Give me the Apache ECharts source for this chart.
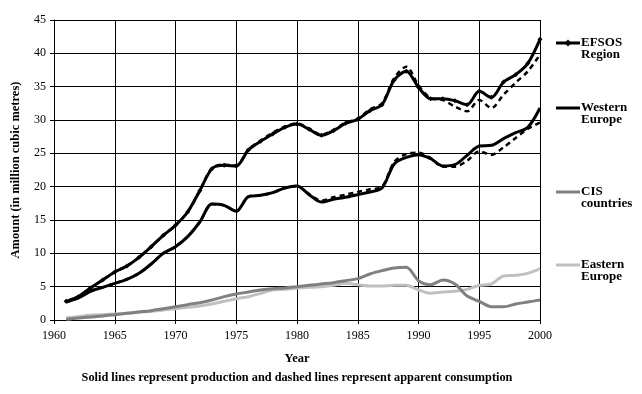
<!DOCTYPE html>
<html>
<head>
<meta charset="utf-8">
<script src="https://cdn.jsdelivr.net/npm/echarts@6/dist/echarts.min.js"></script>
<style>html,body{margin:0;padding:0;background:#fff}#c{width:642px;height:394px}</style>
</head>
<body>
<div id="c"></div>
<script>
var years = [];
for (var y = 1961; y <= 2000; y++) years.push(y);

var efsosProd = [2.8,3.5,4.8,6.0,7.2,8.1,9.4,11.0,12.7,14.2,16.2,19.4,22.7,23.2,23.1,25.5,26.8,27.9,28.9,29.4,28.6,27.7,28.4,29.5,30.1,31.4,32.3,36.0,37.3,34.9,33.2,33.2,32.9,32.3,34.3,33.4,35.7,36.8,38.5,42.1];
var efsosCons = [2.7,3.5,4.8,6.0,7.2,8.1,9.4,11.0,12.7,14.2,16.2,19.4,22.8,23.3,23.2,25.6,26.9,28.1,29.0,29.5,28.7,27.8,28.5,29.6,30.2,31.6,32.5,36.3,38.0,35.2,33.3,33.0,32.0,31.3,33.0,31.8,33.8,35.6,37.3,39.8];
var westProd = [2.7,3.3,4.3,4.9,5.5,6.1,7.0,8.4,10.0,11.0,12.5,14.7,17.4,17.2,16.3,18.5,18.7,19.1,19.8,20.1,18.8,17.7,18.1,18.4,18.8,19.2,19.8,23.4,24.4,24.8,24.2,23.1,23.3,24.7,26.1,26.2,27.2,28.1,28.9,31.8];
var westCons = [2.7,3.3,4.3,4.9,5.5,6.1,7.0,8.4,10.0,11.0,12.5,14.7,17.4,17.2,16.3,18.5,18.7,19.1,19.8,20.1,18.9,17.9,18.4,18.8,19.2,19.6,20.0,23.7,24.9,25.1,24.3,23.0,23.0,23.9,25.3,24.8,25.9,27.3,28.7,29.6];
var cisProd = [0.1,0.3,0.45,0.6,0.8,1.0,1.2,1.4,1.7,2.0,2.3,2.6,3.0,3.5,3.9,4.2,4.5,4.7,4.8,5.0,5.2,5.4,5.6,5.9,6.2,6.9,7.4,7.8,7.9,5.9,5.3,6.0,5.4,3.6,2.8,2.0,2.0,2.4,2.7,3.0];
var eastProd = [0.3,0.5,0.7,0.8,0.9,1.0,1.2,1.3,1.5,1.7,1.9,2.1,2.4,2.8,3.2,3.5,4.0,4.5,4.6,4.8,4.9,5.0,5.2,5.5,5.3,5.1,5.1,5.2,5.2,4.5,4.0,4.2,4.3,4.6,5.2,5.4,6.6,6.7,7.0,7.7];

var xTicks = [1960,1965,1970,1975,1980,1985,1990,1995,2000];
var yTicks = [0,5,10,15,20,25,30,35,40,45];

function pairs(arr){ return years.map(function(yr,i){ return [yr, arr[i]]; }); }

var serif = '"Liberation Serif","Times New Roman",serif';
var chart = echarts.init(document.getElementById('c'));

function mkLine(name, data, color, width, dashed, symbol){
  return {
    name: name, type: 'line', data: pairs(data), smooth: 0.3,
    symbol: symbol || 'none', symbolSize: 5, showSymbol: !!symbol,
    itemStyle: {color: color},
    lineStyle: {color: color, width: width, type: dashed ? [5,4] : 'solid'},
    animation: false, z: dashed ? 3 : 4
  };
}

var legendItems = [
  {label:'EFSOS\nRegion', y:43, color:'#000', w:3, marker:true},
  {label:'Western\nEurope', y:108, color:'#000', w:3},
  {label:'CIS\ncountries', y:192, color:'#808080', w:3},
  {label:'Eastern\nEurope', y:265, color:'#c0c0c0', w:3}
];
var graphics = [];
legendItems.forEach(function(it){
  graphics.push({type:'line', shape:{x1:556,y1:it.y,x2:580,y2:it.y}, style:{stroke:it.color, lineWidth:it.w}});
  if (it.marker) graphics.push({type:'polygon', shape:{points:[[568,it.y-3.5],[571.5,it.y],[568,it.y+3.5],[564.5,it.y]]}, style:{fill:'#000'}});
  graphics.push({type:'text', left:581, top:it.y-7, style:{text:it.label, font:'bold 13px '+serif, fill:'#000', lineHeight:12.5}});
});
graphics.push({type:'text', x:297, y:359, style:{text:'Year', font:'bold 12.5px '+serif, fill:'#000', align:'center', verticalAlign:'middle'}});
graphics.push({type:'text', x:297, y:378, style:{text:'Solid lines represent production and dashed lines represent apparent consumption', font:'bold 12.3px '+serif, fill:'#000', align:'center', verticalAlign:'middle'}});

chart.setOption({
  backgroundColor:'#fff',
  animation:false,
  grid:{left:54, right:102, top:20, bottom:74},
  xAxis:{
    type:'value', min:xTicks[0], max:xTicks[xTicks.length-1], interval:5,
    axisLine:{lineStyle:{color:'#000', width:1}},
    axisTick:{show:true, length:4, lineStyle:{color:'#000'}},
    axisLabel:{color:'#000', fontFamily:serif, fontSize:12, margin:10, formatter:function(v){return String(v);}},
    splitLine:{show:true, lineStyle:{color:'#000', width:1}}
  },
  yAxis:{
    type:'value', min:yTicks[0], max:yTicks[yTicks.length-1], interval:5,
    name:'Amount (in million cubic metres)', nameLocation:'middle', nameGap:32,
    nameTextStyle:{fontFamily:serif, fontWeight:'bold', fontSize:12.5, color:'#000'},
    axisLine:{show:true, lineStyle:{color:'#000', width:1}},
    axisTick:{show:true, length:4, lineStyle:{color:'#000'}},
    axisLabel:{color:'#000', fontFamily:serif, fontSize:12, margin:8},
    splitLine:{show:true, lineStyle:{color:'#000', width:1}}
  },
  graphic: graphics,
  series:[
    mkLine('Eastern Europe', eastProd, '#c0c0c0', 3, false),
    mkLine('CIS countries', cisProd, '#808080', 3, false),
    mkLine('Western Europe (consumption)', westCons, '#000', 2.5, true),
    mkLine('Western Europe', westProd, '#000', 3, false),
    mkLine('EFSOS Region (consumption)', efsosCons, '#000', 2.5, true),
    mkLine('EFSOS Region', efsosProd, '#000', 3, false, 'diamond')
  ]
});
</script>
</body>
</html>
